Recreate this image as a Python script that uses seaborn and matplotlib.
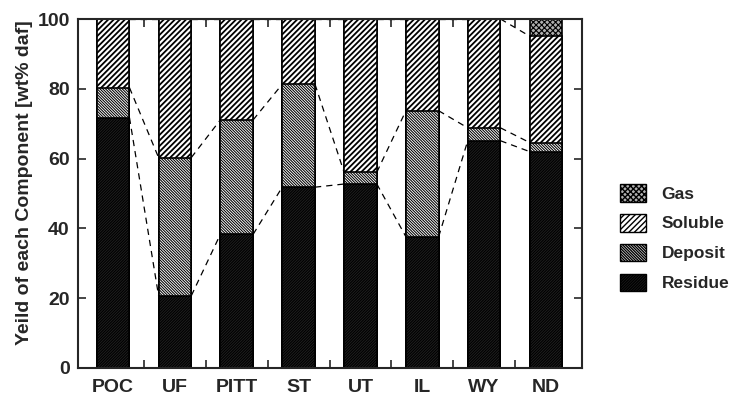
import numpy as np
import pandas as pd
import matplotlib
matplotlib.use("Agg")
import matplotlib.pyplot as plt
from matplotlib.patches import Patch
import seaborn as sns

# Data (wt% daf)
coals = ["POC", "UF", "PITT", "ST", "UT", "IL", "WY", "ND"]
residue = [71.7, 20.7, 38.3, 51.8, 52.7, 37.6, 65.1, 62.0]
deposit = [8.6, 39.6, 32.8, 29.5, 3.4, 36.1, 3.7, 2.6]
soluble = [19.7, 39.7, 28.9, 18.7, 43.9, 26.3, 31.2, 30.5]
gas = [0.0, 0.0, 0.0, 0.0, 0.0, 0.0, 0.0, 4.9]

sns.set_style("ticks")
plt.rcParams["font.family"] = ["Liberation Sans", "DejaVu Sans"]
plt.rcParams["font.weight"] = "bold"

df = pd.DataFrame({"coal": coals, "residue": residue, "deposit": deposit,
                   "soluble": soluble, "gas": gas})
df["c_res"] = df["residue"]
df["c_dep"] = df["c_res"] + df["deposit"]
df["c_sol"] = df["c_dep"] + df["soluble"]
df["c_gas"] = df["c_sol"] + df["gas"]

fig = plt.figure(figsize=(7.3, 3.96), dpi=100)
ax = fig.add_axes([0.107, 0.071, 0.690, 0.881])

width = 0.53
styles = {
    "Gas": dict(col="c_gas", fc="#b0b0b0", hatch="x" * 6, hlw=0.8),
    "Soluble": dict(col="c_sol", fc="white", hatch="/" * 6, hlw=1.3),
    "Deposit": dict(col="c_dep", fc="white", hatch="\\" * 12, hlw=0.75),
    "Residue": dict(col="c_res", fc="#222222", hatch="/" * 12, hlw=0.8),
}

# overlapping cumulative bars, tallest first
for name, st in styles.items():
    with plt.rc_context({"hatch.linewidth": st["hlw"]}):
        sns.barplot(data=df, x="coal", y=st["col"], order=coals, ax=ax,
                    color=st["fc"], width=width, saturation=1,
                    edgecolor="black", linewidth=1.2, hatch=st["hatch"])

# dashed connectors between neighbouring bars
xs = np.arange(len(coals))
for col in ["c_res", "c_dep", "c_sol"]:
    vals = df[col].values
    for i in range(len(coals) - 1):
        ax.plot([xs[i] + width / 2, xs[i + 1] - width / 2], [vals[i], vals[i + 1]],
                color="black", lw=0.9, ls=(0, (5, 4)), zorder=1)

ax.set_xlim(-0.566, 7.58)
ax.set_ylim(0, 100)
ax.set_yticks([0, 20, 40, 60, 80, 100])
ax.set_xlabel("")
ax.set_ylabel("Yeild of each Component [wt% daf]", fontsize=14, fontweight="bold")
ax.yaxis.set_label_coords(-0.09, 0.53)
ax.tick_params(axis="y", direction="in", length=6, width=1.2, right=True,
               labelsize=14, pad=6)
ax.tick_params(axis="x", which="major", length=0, labelsize=14, pad=8)
ax.set_xticks(xs[:-1] + 0.5, minor=True)
ax.tick_params(axis="x", which="minor", direction="in", length=6, width=1.2, top=True)
for lab in ax.get_xticklabels() + ax.get_yticklabels():
    lab.set_fontweight("bold")
for sp in ax.spines.values():
    sp.set_visible(True)
    sp.set_linewidth(1.5)

handles = []
for name, st in styles.items():
    with plt.rc_context({"hatch.linewidth": st["hlw"]}):
        handles.append(Patch(facecolor=st["fc"], edgecolor="black", hatch=st["hatch"],
                             lw=1.0, label=name))
fig.legend(handles=handles, loc="center left", bbox_to_anchor=(0.828, 0.40),
           frameon=False, prop={"size": 12.5, "weight": "bold"},
           handlelength=1.5, handleheight=1.2, labelspacing=0.7, handletextpad=0.9)

fig.savefig("out.png", dpi=100)
